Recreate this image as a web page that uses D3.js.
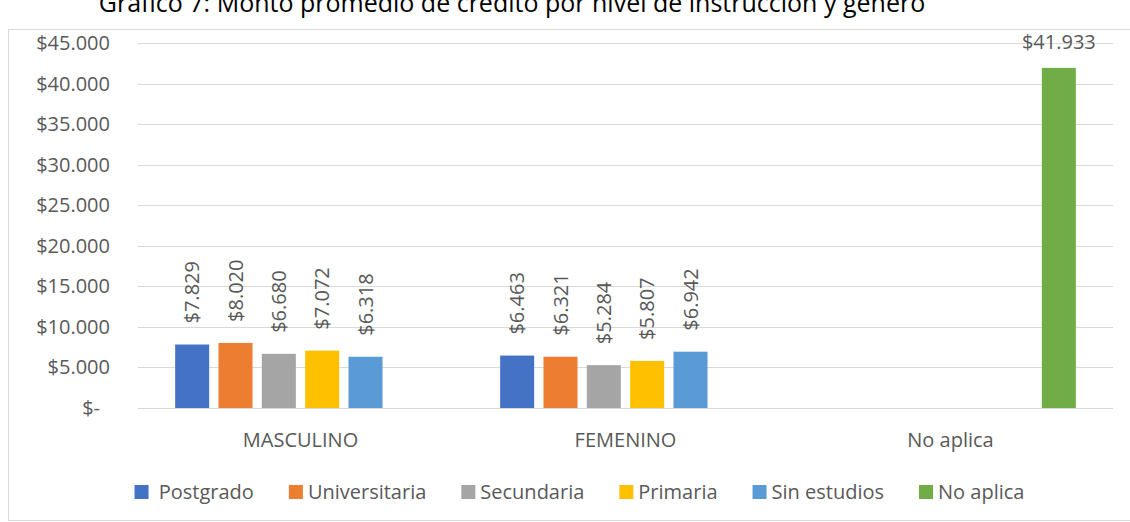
<!DOCTYPE html>
<html>
<head>
<meta charset="utf-8">
<script src="https://cdn.jsdelivr.net/npm/d3@7"></script>
<style>
  body { margin: 0; background: #fff; }
  svg text { font-family: "Open Sans", sans-serif; fill: #595959; }
</style>
</head>
<body>
<script>
var width = 1130;
var height = 522;

var title = "Gráfico 7: Monto promedio de crédito por nivel de instrucción y género";
var categories = ["MASCULINO", "FEMENINO", "No aplica"];
var series = [" Postgrado", "Universitaria", "Secundaria", "Primaria", "Sin estudios", "No aplica"];
var colors = ["#4472C4", "#ED7D31", "#A5A5A5", "#FFC000", "#5B9BD5", "#70AD47"];
var masculino = [7829, 8020, 6680, 7072, 6318, null];
var femenino = [6463, 6321, 5284, 5807, 6942, null];
var no_aplica = [null, null, null, null, null, 41933];
var y_ticks = [0, 5000, 10000, 15000, 20000, 25000, 30000, 35000, 40000, 45000];

var values = [masculino, femenino, no_aplica];

var plot_left = 138, plot_right = 1113;
var plot_top = 43, plot_bottom = 408;
var legend_gap = 35;

var svg = d3.select("body")
    .append("svg")
    .attr("width", width)
    .attr("height", height);

// chart frame (runs past the right edge like the screenshot)
svg.append("rect")
    .attr("x", 8.5)
    .attr("y", 29.5)
    .attr("width", 1160)
    .attr("height", 491)
    .attr("fill", "#fff")
    .attr("stroke", "#d9d9d9");

svg.append("text")
    .attr("x", 512)
    .attr("y", 12)
    .attr("text-anchor", "middle")
    .attr("font-size", "25px")
    .style("fill", "#000")
    .text(title);

var x0 = d3.scaleBand()
    .domain(categories)
    .range([plot_left, plot_right]);

var x1 = d3.scaleBand()
    .domain(series)
    .range([0, x0.bandwidth()])
    .paddingInner(0.215)
    .paddingOuter(0.8575);

var y = d3.scaleLinear()
    .domain([0, 45000])
    .range([plot_bottom, plot_top]);

var money = function(v) {
    if (v === 0) return "$-";
    return "$" + d3.format(",")(v).replace(/,/g, ".");
};

// gridlines
svg.selectAll("line.grid")
    .data(y_ticks)
    .enter()
    .append("line")
    .attr("class", "grid")
    .attr("x1", plot_left)
    .attr("x2", plot_right)
    .attr("y1", function(d) { return Math.round(y(d)) + 0.5; })
    .attr("y2", function(d) { return Math.round(y(d)) + 0.5; })
    .attr("stroke", "#d9d9d9")
    .attr("stroke-width", 1);

svg.selectAll("text.ytick")
    .data(y_ticks)
    .enter()
    .append("text")
    .attr("class", "ytick")
    .attr("x", function(d) { return d === 0 ? 100 : 110; })
    .attr("y", function(d) { return y(d); })
    .attr("dy", "0.35em")
    .attr("text-anchor", "end")
    .attr("font-size", "20px")
    .text(money);

svg.selectAll("text.xtick")
    .data(categories)
    .enter()
    .append("text")
    .attr("class", "xtick")
    .attr("x", function(d) { return x0(d) + x0.bandwidth() / 2; })
    .attr("y", 447)
    .attr("text-anchor", "middle")
    .attr("font-size", "20px")
    .text(function(d) { return d; });

var rows = [];
categories.forEach(function(c, ci) {
    series.forEach(function(s, si) {
        if (values[ci][si] != null) rows.push({ cat: c, ser: s, idx: si, value: values[ci][si] });
    });
});

svg.selectAll("rect.bar")
    .data(rows)
    .enter()
    .append("rect")
    .attr("class", "bar")
    .attr("x", function(d) { return x0(d.cat) + x1(d.ser); })
    .attr("y", function(d) { return y(d.value); })
    .attr("width", x1.bandwidth())
    .attr("height", function(d) { return y(0) - y(d.value); })
    .attr("fill", function(d) { return colors[d.idx]; });

svg.selectAll("text.lab")
    .data(rows)
    .enter()
    .append("text")
    .attr("class", "lab")
    .attr("font-size", "20px")
    .attr("transform", function(d) {
        var cx = x0(d.cat) + x1(d.ser) + x1.bandwidth() / 2;
        if (d.idx === 5) return "translate(" + cx + "," + (y(d.value) - 19) + ")";
        return "translate(" + cx + "," + (y(d.value) - 21) + ") rotate(-90)";
    })
    .attr("text-anchor", function(d) { return d.idx === 5 ? "middle" : "start"; })
    .attr("dy", function(d) { return d.idx === 5 ? 0 : "0.35em"; })
    .text(function(d) { return money(d.value); });

// legend
var legend = svg.append("g");
var items = legend.selectAll("g")
    .data(series)
    .enter()
    .append("g");

items.append("rect")
    .attr("x", 0)
    .attr("y", 485)
    .attr("width", 14)
    .attr("height", 14)
    .attr("fill", function(d, i) { return colors[i]; });

items.append("text")
    .attr("x", 19)
    .attr("y", 499)
    .attr("font-size", "20px")
    .attr("xml:space", "preserve")
    .style("white-space", "pre")
    .text(function(d) { return d; });

var pos = 0;
items.each(function() {
    var g = d3.select(this);
    g.attr("transform", "translate(" + pos + ",0)");
    pos += 19 + g.select("text").node().getComputedTextLength() + legend_gap;
});
var total = pos - legend_gap;
legend.attr("transform", "translate(" + (579.5 - total / 2) + ",0)");
</script>
</body>
</html>
